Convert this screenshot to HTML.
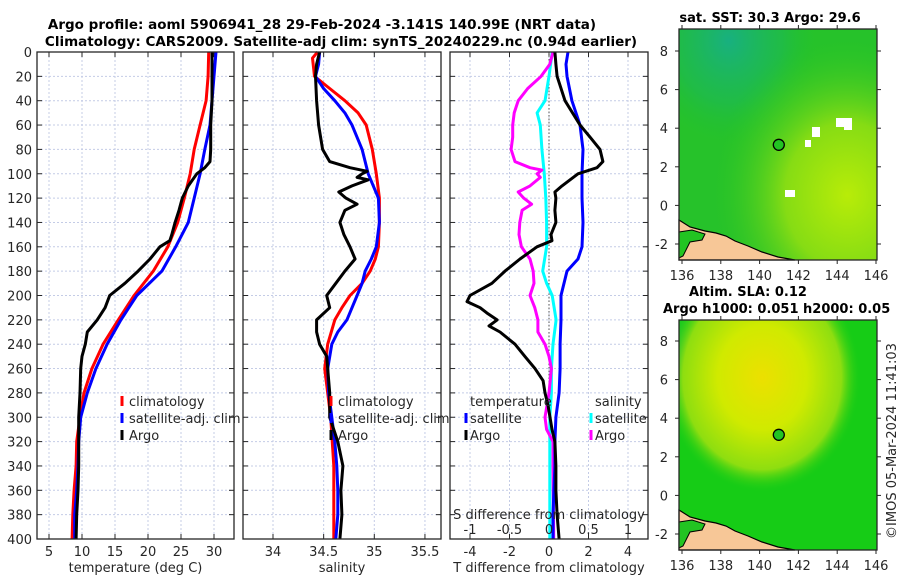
<!DOCTYPE html>
<html><head><meta charset="utf-8"><style>
body{margin:0;background:#fff;}
svg{display:block;font-family:"DejaVu Sans","Liberation Sans",sans-serif;}
</style></head><body>
<svg id="fig" width="900" height="580" viewBox="0 0 900 580" xmlns="http://www.w3.org/2000/svg">
<defs>
<radialGradient id="sstYel" cx="0.85" cy="0.72" r="0.7"><stop offset="0" stop-color="#b8ec08"/><stop offset="0.45" stop-color="#86dc14"/><stop offset="1" stop-color="#22c426" stop-opacity="0"/></radialGradient>
<radialGradient id="sstTeal" cx="0.25" cy="0.05" r="0.45"><stop offset="0" stop-color="#18b080"/><stop offset="0.6" stop-color="#1cb858" stop-opacity="0.6"/><stop offset="1" stop-color="#20c030" stop-opacity="0"/></radialGradient>
<radialGradient id="slaYel" cx="0.42" cy="0.25" r="0.5"><stop offset="0" stop-color="#ece000"/><stop offset="0.45" stop-color="#d0ea00"/><stop offset="0.8" stop-color="#8ede10"/><stop offset="1" stop-color="#16cc16" stop-opacity="0"/></radialGradient>
<radialGradient id="slaTeal" cx="0" cy="0.2" r="0.3"><stop offset="0" stop-color="#18b060"/><stop offset="1" stop-color="#16cc16" stop-opacity="0"/></radialGradient>
</defs>
</svg>
<script>
// ---- data ----
const tClimDepth=[0,20,40,60,80,100,120,140,160,180,200,220,240,260,280,300,320,340,360,380,400];
const tClim=[29.2,29.1,28.8,27.9,27.0,26.4,25.5,24.5,23.0,20.8,17.9,15.5,13.2,11.5,10.3,9.7,9.2,9.1,8.8,8.6,8.5];
const tSat=[30.3,30.0,29.7,29.4,28.6,27.9,27.0,26.1,24.2,22.1,18.3,15.9,13.8,12.1,10.8,9.8,9.5,9.4,9.2,8.9,8.9];
const tArgoDepth=[0,20,40,60,80,90,95,100,110,120,130,140,150,155,160,170,180,190,200,210,220,230,240,250,260,280,300,320,340,360,380,400];
const tArgo=[29.7,29.7,29.7,29.5,29.5,29.4,28.6,27.4,26.1,25.2,24.7,24.1,23.6,23.3,21.8,20.3,18.5,16.5,14.2,13.5,12.3,10.8,10.5,10.0,9.8,9.7,9.5,9.5,9.5,9.4,9.2,9.1];
const sClimDepth=[0,5,20,30,40,50,60,80,100,120,140,160,170,180,190,200,210,220,240,260,280,300,340,400];
const sClim=[34.44,34.39,34.41,34.56,34.71,34.84,34.92,34.98,35.02,35.05,35.05,35.04,35.01,34.96,34.88,34.76,34.68,34.61,34.54,34.51,34.54,34.57,34.60,34.60];
const sSatDepth=[0,10,20,30,40,50,60,80,100,120,140,160,170,180,190,200,220,230,240,260,280,300,320,340,360,380,400];
const sSat=[34.46,34.45,34.42,34.50,34.61,34.71,34.78,34.88,34.94,35.04,35.05,35.02,34.97,34.91,34.88,34.83,34.73,34.64,34.58,34.54,34.55,34.58,34.61,34.63,34.64,34.64,34.62];
const sArgoDepth=[0,10,20,40,60,80,90,95,98,100,103,105,110,115,120,125,130,140,150,160,170,180,190,200,210,220,230,240,250,260,280,300,320,340,360,380,400];
const sArgo=[34.46,34.43,34.42,34.43,34.45,34.49,34.56,34.76,34.93,34.88,34.83,34.94,34.78,34.65,34.72,34.83,34.71,34.66,34.70,34.76,34.81,34.71,34.62,34.53,34.56,34.43,34.43,34.46,34.53,34.54,34.56,34.56,34.64,34.69,34.67,34.68,34.66];
const dTSatDepth=[0,10,20,40,60,80,100,120,140,160,170,180,200,220,240,260,280,300,320,340,360,380,400];
const dTSat=[0.96,0.86,0.91,1.16,1.57,1.72,1.67,1.67,1.72,1.67,1.47,0.91,0.61,0.61,0.56,0.56,0.51,0.35,0.30,0.30,0.25,0.20,0.20];
const dTArgoDepth=[0,10,20,40,60,70,80,90,95,100,110,115,120,130,140,150,155,160,170,180,190,200,205,210,215,220,225,230,240,250,260,270,280,290,300,310,320,340,360,380,400];
const dTArgo=[0.30,0.35,0.41,0.81,1.57,2.08,2.58,2.73,2.43,1.47,0.66,0.30,0.35,0.30,0.35,0.10,0.15,-0.61,-1.47,-2.23,-2.89,-4.00,-4.15,-3.49,-3.09,-2.63,-3.04,-2.48,-1.72,-1.22,-0.71,-0.30,-0.20,-0.05,0.05,0.15,0.30,0.35,0.35,0.41,0.51];
const dSSatDepth=[0,20,40,50,60,80,100,120,140,160,180,190,200,220,240,260,280,300,400];
const dSSat=[0.04,0,-0.05,-0.15,-0.11,-0.09,-0.06,-0.04,-0.03,-0.03,-0.08,-0.03,0.04,0.09,0.05,0.03,0.03,0.01,0.01];
const dSArgoDepth=[0,10,20,30,40,50,60,70,80,90,95,97,100,103,110,115,120,125,130,140,150,160,170,180,190,200,210,220,230,240,250,260,280,300,310,320,340,400];
const dSArgo=[0.05,0.01,-0.10,-0.27,-0.39,-0.44,-0.46,-0.46,-0.48,-0.43,-0.24,-0.09,-0.15,-0.11,-0.24,-0.39,-0.32,-0.22,-0.34,-0.37,-0.38,-0.35,-0.24,-0.20,-0.19,-0.24,-0.18,-0.14,-0.14,-0.05,0,0.03,0,-0.05,-0.03,0.05,0.05,0.06];
const depthTicks=[0,20,40,60,80,100,120,140,160,180,200,220,240,260,280,300,320,340,360,380,400];
const tTicks=[5,10,15,20,25,30];
const sTicks=[34,34.5,35,35.5];
const sTickLabels=["34","34.5","35","35.5"];
const dTTicks=[-4,-2,0,2,4];
const dSTicks=[-1,-0.5,0,0.5,1];
const dSTickLabels=["-1","-0.5","0","0.5","1"];
const lonTicks=[136,138,140,142,144,146];
const latTicks=[-2,0,2,4,6,8];
const argoLon=[140.99], argoLat=[3.14];

// ---- scales ----
const Y0=52,Y1=539;
const yD=d=>Y0+(d/400)*(Y1-Y0);
const xT=t=>49+(t-5)*6.6;
const xS=s=>273+(s-34)*101.3;
const xDT=d=>549+d*19.75;
const xDS=d=>549+d*79;
const mxLon=l=>682+(l-136)*19.4;
const myLat1=l=>244-(l+2)*19.3;
const myLat2=l=>534-(l+2)*19.3;

const svg=document.getElementById('fig');
const NS='http://www.w3.org/2000/svg';
function el(tag,attrs,parent){const e=document.createElementNS(NS,tag);for(const k in attrs)e.setAttribute(k,attrs[k]);(parent||svg).appendChild(e);return e;}
function txt(x,y,s,opts,parent){const e=el('text',Object.assign({x:x,y:y,'font-size':13,fill:'#262626'},opts||{}),parent);e.textContent=s;return e;}

const panels=[{x0:37,x1:234,name:'temperature-panel',xt:tTicks.map(xT),xl:tTicks.map(String),title:'temperature (deg C)'},
{x0:243,x1:441,name:'salinity-panel',xt:sTicks.map(xS),xl:sTickLabels,title:'salinity'},
{x0:450,x1:648,name:'difference-panel',xt:dTTicks.map(xDT),xl:dTTicks.map(String),title:'T difference from climatology'}];
panels.forEach((p,i)=>{
  const g=el('g',{});
  
  
  p.xt.forEach(x=>el('line',{x1:x,x2:x,y1:Y0,y2:Y1,stroke:'#c4cce6','stroke-width':1,'stroke-dasharray':'2,2'},g));
  depthTicks.forEach(d=>{
    el('line',{x1:p.x0,x2:p.x1,y1:yD(d),y2:yD(d),stroke:'#c4cce6','stroke-width':1,'stroke-dasharray':'2,2'},g);
    el('line',{x1:p.x0,x2:p.x0+5,y1:yD(d),y2:yD(d),stroke:'#262626'},g);
    el('line',{x1:p.x1-5,x2:p.x1,y1:yD(d),y2:yD(d),stroke:'#262626'},g);
  });
  p.xt.forEach((x,k)=>{
    el('line',{x1:x,x2:x,y1:Y1,y2:Y1-5,stroke:'#262626'},g);
    el('line',{x1:x,x2:x,y1:Y0,y2:Y0+5,stroke:'#262626'},g);
    const t=txt(x,556,p.xl[k],{'text-anchor':'middle'},g);
    
    
  });
  const at=txt((p.x0+p.x1)/2,572,p.title,{'text-anchor':'middle'},g);
  
  
});
depthTicks.forEach(d=>{
  const t=txt(32,yD(d)+5,String(d),{'text-anchor':'end'});
  
  
});
const zl=el('line',{x1:xDT(0),x2:xDT(0),y1:Y0,y2:Y1,stroke:'#555','stroke-width':1,'stroke-dasharray':'1.5,2'});



function line(depths,vals,xf,color,w,name){
  const d=depths.map((dd,i)=>(i?'L':'M')+xf(vals[i]).toFixed(1)+','+yD(dd).toFixed(1)).join('');
  const p=el('path',{d:d,fill:'none',stroke:color,'stroke-width':w,'stroke-linejoin':'round'});
  
  
}
line(tClimDepth,tClim,xT,'#ff0000',3,'temperature-climatology-line');
line(tClimDepth,tSat,xT,'#0000ff',3,'temperature-satellite-line');
line(tArgoDepth,tArgo,xT,'#000000',3,'temperature-argo-line');
line(sClimDepth,sClim,xS,'#ff0000',3,'salinity-climatology-line');
line(sSatDepth,sSat,xS,'#0000ff',3,'salinity-satellite-line');
line(sArgoDepth,sArgo,xS,'#000000',3,'salinity-argo-line');
line(dSSatDepth,dSSat,xDS,'#00ffff',3,'salinity-satellite-diff-line');
line(dSArgoDepth,dSArgo,xDS,'#ff00ff',3,'salinity-argo-diff-line');
line(dTSatDepth,dTSat,xDT,'#0000ff',3,'temperature-satellite-diff-line');
line(dTArgoDepth,dTArgo,xDT,'#000000',3,'temperature-argo-diff-line');

panels.forEach(p=>{el('rect',{x:p.x0,y:Y0,width:p.x1-p.x0,height:Y1-Y0,fill:'none',stroke:'#262626','stroke-width':1.3});});

function legItem(mx,tx,y,color,label){
  const g=el('g',{});
  
  
  el('line',{x1:mx,x2:mx,y1:y-10,y2:y,stroke:color,'stroke-width':3},g);
  txt(tx,y,label,{'font-size':13},g);
}
[[122,129],[331,338]].forEach(([m,t])=>{
  legItem(m,t,406,'#ff0000','climatology');
  legItem(m,t,423,'#0000ff','satellite-adj. clim');
  legItem(m,t,440,'#000000','Argo');
});
txt(470,406,'temperature',{'font-size':13});
legItem(466,470,423,'#0000ff','satellite');
legItem(466,470,440,'#000000','Argo');
txt(595,406,'salinity',{'font-size':13});
legItem(591,595,423,'#00ffff','satellite');
legItem(591,595,440,'#ff00ff','Argo');
const sdt=txt(549,519,'S difference from climatology',{'text-anchor':'middle'});


dSTicks.forEach((v,k)=>{const t=txt(xDS(v),534,dSTickLabels[k],{'text-anchor':'middle'});
  
  });

const t1=txt(322,29,'Argo profile: aoml 5906941_28 29-Feb-2024 -3.141S 140.99E (NRT data)',{'text-anchor':'middle','font-weight':'bold','font-size':13.5,fill:'#000'});


const t2=txt(341,46,'Climatology: CARS2009. Satellite-adj clim: synTS_20240229.nc (0.94d earlier)',{'text-anchor':'middle','font-weight':'bold','font-size':13.5,fill:'#000'});



function map(top,bot,myLat,kind,name){
  const g=el('g',{});
  
  
  const W=877-679,H=bot-top;
  if(kind==='sst'){
    el('rect',{x:679,y:top,width:W,height:H,fill:'#26c22a'},g);
    el('rect',{x:679,y:top,width:W,height:H,fill:'url(#sstTeal)'},g);
    el('rect',{x:679,y:top,width:W,height:H,fill:'url(#sstYel)'},g);
    [[812,127,8,10],[836,118,10,9],[844,118,8,12],[805,140,6,7],[785,190,10,7]].forEach(r=>el('rect',{x:r[0],y:r[1],width:r[2],height:r[3],fill:'#fff'},g));
  } else {
    el('rect',{x:679,y:top,width:W,height:H,fill:'#16cc16'},g);
    el('rect',{x:679,y:top,width:W,height:H,fill:'url(#slaTeal)'},g);
    el('rect',{x:679,y:top,width:W,height:H,fill:'url(#slaYel)'},g);
  }
  const b=bot;
  el('path',{d:`M679,${b-40}L690,${b-33}L705,${b-29}L716,${b-27}L726,${b-24}L735,${b-19}L748,${b-14}L762,${b-8}L778,${b-3}L795,${b}L679,${b}Z`,fill:'#f7c797',stroke:'#000','stroke-width':1.2},g);
  el('path',{d:`M679,${b-28}L692,${b-30}L705,${b-26}L702,${b-20}L690,${b-18}L683,${b-4}L679,${b-2}Z`,fill:'#22c422',stroke:'#000','stroke-width':1},g);
  el('rect',{x:679,y:top,width:W,height:H,fill:'none',stroke:'#262626','stroke-width':1.3},g);
  lonTicks.forEach(l=>{const x=mxLon(l);
    el('line',{x1:x,x2:x,y1:bot,y2:bot+4,stroke:'#262626'},g);el('line',{x1:x,x2:x,y1:top,y2:top-4,stroke:'#262626'},g);
    txt(x,bot+20,String(l),{'text-anchor':'middle'},g);});
  latTicks.forEach(l=>{const y=myLat(l);
    el('line',{x1:679,x2:675,y1:y,y2:y,stroke:'#262626'},g);el('line',{x1:877,x2:881,y1:y,y2:y,stroke:'#262626'},g);
    txt(668,y+5,String(l),{'text-anchor':'end'},g);});
  argoLon.forEach((lo,i)=>{
    const c=el('circle',{cx:mxLon(lo),cy:myLat(argoLat[i]),r:5.5,fill:'#22c422',stroke:'#000','stroke-width':1.3},g);
    
    
  });
}
map(29,260,myLat1,'sst','sst-map');
map(320,550,myLat2,'sla','sla-map');
txt(770,22,'sat. SST: 30.3 Argo: 29.6',{'text-anchor':'middle','font-weight':'bold','font-size':13,fill:'#000'});
txt(748,296,'Altim. SLA: 0.12',{'text-anchor':'middle','font-weight':'bold','font-size':13,fill:'#000'});
txt(663,313,'Argo h1000: 0.051 h2000: 0.05',{'font-weight':'bold','font-size':13,fill:'#000'});
const cr=txt(0,0,'©IMOS 05-Mar-2024 11:41:03',{'text-anchor':'middle','font-size':13,transform:'translate(896,441) rotate(-90)'});


</script>
</body></html>
